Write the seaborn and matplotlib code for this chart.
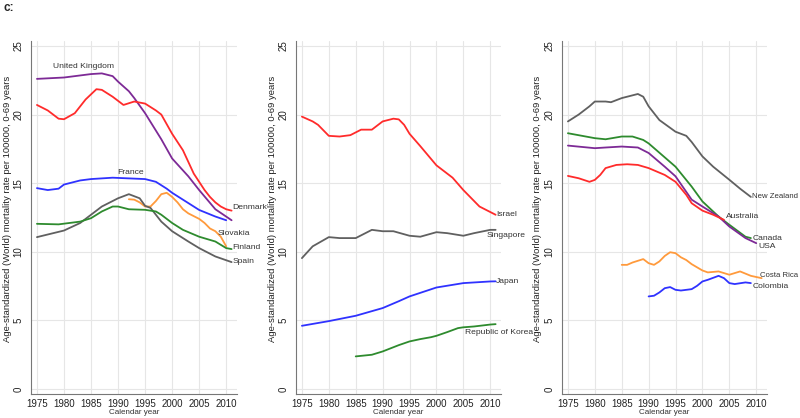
import numpy as np
import pandas as pd
import matplotlib
matplotlib.use("Agg")
import matplotlib.pyplot as plt
import seaborn as sns

# colours (Stata-like)
RED = "#ff2b2b"
PURPLE = "#7d2a96"
BLUE = "#2f32ff"
GREEN = "#2e8b2e"
GRAY = "#606060"
ORANGE = "#ff9a3c"

# ---- panel 1: Europe ----
uk_years = [1975, 1980, 1985, 1987, 1989, 1990, 1992, 1993, 1995, 1998, 2000, 2003, 2005, 2008, 2011]
uk_vals = [22.6, 22.7, 22.95, 23.0, 22.8, 22.4, 21.7, 21.2, 20.1, 18.2, 16.8, 15.5, 14.5, 13.1, 12.3]

dk_years = [1975, 1977, 1979, 1980, 1982, 1984, 1986, 1987, 1989, 1991, 1993, 1995, 1997, 1998, 2000,
            2002, 2004, 2005, 2006, 2007, 2008, 2009, 2010, 2011]
dk_vals = [20.7, 20.3, 19.7, 19.66, 20.1, 21.1, 21.85, 21.8, 21.3, 20.7, 20.95, 20.8, 20.3, 20.0, 18.6,
           17.4, 15.7, 15.1, 14.5, 14.0, 13.6, 13.3, 13.1, 13.0]

fr_years = [1975, 1977, 1979, 1980, 1983, 1985, 1989, 1995, 1997, 1999, 2000, 2002, 2005, 2008, 2010]
fr_vals = [14.64, 14.5, 14.6, 14.9, 15.2, 15.3, 15.4, 15.3, 15.1, 14.6, 14.3, 13.8, 13.05, 12.57, 12.3]

sk_years = [1992, 1993, 1994, 1995, 1996, 1997, 1998, 1999, 2000, 2001, 2002, 2003, 2004, 2005, 2006,
            2007, 2008, 2009, 2010]
sk_vals = [13.83, 13.8, 13.6, 13.3, 13.3, 13.7, 14.2, 14.3, 14.0, 13.6, 13.1, 12.8, 12.6, 12.4, 12.1,
           11.7, 11.5, 11.1, 10.4]

es_years = [1975, 1980, 1983, 1985, 1987, 1990, 1992, 1994, 1995, 1996, 1998, 2000, 2003, 2005, 2008, 2011]
es_vals = [11.07, 11.55, 12.1, 12.7, 13.3, 13.9, 14.2, 13.9, 13.35, 13.2, 12.2, 11.5, 10.75, 10.27, 9.66, 9.25]

fi_years = [1975, 1979, 1983, 1985, 1987, 1989, 1990, 1992, 1995, 1997, 1998, 2000, 2002, 2005, 2008, 2010, 2011]
fi_vals = [12.04, 12.0, 12.2, 12.45, 12.94, 13.3, 13.3, 13.1, 13.06, 12.94, 12.7, 12.1, 11.6, 11.1, 10.75, 10.27, 10.2]

# ---- panel 2: Asia ----
il_years = [1975, 1977, 1978, 1980, 1982, 1984, 1986, 1988, 1989, 1990, 1992, 1993, 1994, 1995, 1997,
            2000, 2003, 2005, 2007, 2008, 2010, 2011]
il_vals = [19.85, 19.5, 19.25, 18.45, 18.4, 18.5, 18.9, 18.9, 19.2, 19.5, 19.7, 19.65, 19.25, 18.6, 17.7,
           16.3, 15.4, 14.5, 13.7, 13.3, 12.9, 12.7]

sg_years = [1975, 1977, 1980, 1982, 1985, 1988, 1990, 1992, 1995, 1997, 2000, 2002, 2005, 2007, 2010, 2011]
sg_vals = [9.54, 10.4, 11.07, 11.0, 11.0, 11.6, 11.5, 11.5, 11.17, 11.1, 11.43, 11.36, 11.17, 11.36, 11.6, 11.6]

jp_years = [1975, 1980, 1985, 1990, 1993, 1995, 2000, 2005, 2010, 2011]
jp_vals = [4.61, 4.95, 5.34, 5.9, 6.4, 6.75, 7.4, 7.72, 7.84, 7.85]

kr_years = [1985, 1988, 1990, 1993, 1995, 1997, 1999, 2000, 2002, 2004, 2005, 2007, 2010, 2011]
kr_vals = [2.38, 2.5, 2.74, 3.2, 3.47, 3.64, 3.78, 3.88, 4.15, 4.44, 4.5, 4.56, 4.7, 4.73]

# ---- panel 3: Americas / Oceania ----
nz_years = [1975, 1977, 1979, 1980, 1982, 1983, 1985, 1986, 1988, 1989, 1990, 1992, 1995, 1997, 1998,
            2000, 2002, 2005, 2007, 2009]
nz_vals = [19.5, 20.0, 20.6, 20.95, 20.95, 20.9, 21.2, 21.3, 21.5, 21.3, 20.6, 19.6, 18.75, 18.45, 18.0,
           16.95, 16.2, 15.25, 14.6, 14.0]

ca_years = [1975, 1980, 1982, 1985, 1987, 1989, 1990, 1995, 1998, 2000, 2003, 2005, 2008, 2009]
ca_vals = [18.64, 18.28, 18.2, 18.4, 18.4, 18.15, 17.9, 16.2, 14.75, 13.67, 12.57, 11.97, 11.1, 11.0]

us_years = [1975, 1980, 1982, 1985, 1988, 1990, 1993, 1995, 1998, 2000, 2003, 2005, 2008, 2010]
us_vals = [17.74, 17.55, 17.6, 17.67, 17.6, 17.2, 16.2, 15.5, 13.8, 13.3, 12.57, 11.84, 11.0, 10.63]

au_years = [1975, 1977, 1979, 1980, 1981, 1982, 1984, 1986, 1988, 1990, 1993, 1995, 1997, 1998, 2000, 2002, 2004]
au_vals = [15.53, 15.36, 15.1, 15.24, 15.6, 16.1, 16.33, 16.38, 16.33, 16.1, 15.6, 15.1, 14.15, 13.54, 13.0, 12.7, 12.33]

cr_years = [1985, 1986, 1987, 1989, 1990, 1991, 1992, 1993, 1994, 1995, 1996, 1997, 1998, 2000, 2001,
            2003, 2005, 2007, 2009, 2011]
cr_vals = [9.05, 9.05, 9.22, 9.47, 9.17, 9.05, 9.3, 9.7, 9.97, 9.9, 9.6, 9.4, 9.1, 8.64, 8.5,
           8.57, 8.33, 8.57, 8.25, 8.08]

co_years = [1990, 1991, 1992, 1993, 1994, 1995, 1996, 1998, 1999, 2000, 2001, 2003, 2004, 2005, 2006, 2008, 2009]
co_vals = [6.75, 6.8, 7.04, 7.35, 7.43, 7.23, 7.18, 7.28, 7.52, 7.84, 7.96, 8.25, 8.08, 7.72, 7.65, 7.77, 7.72]

# name, years, values, colour, (label x, label y, align, size)
panels = [
    [("United Kingdom", uk_years, uk_vals, PURPLE, (1978.0, 23.5, "left", 6.1)),
     ("Denmark", dk_years, dk_vals, RED, (2011.1, 13.26, "left", 6.1)),
     ("France", fr_years, fr_vals, BLUE, (1992.4, 15.75, "center", 6.1)),
     ("Slovakia", sk_years, sk_vals, ORANGE, (2008.5, 11.37, "left", 6.1)),
     ("Spain", es_years, es_vals, GRAY, (2011.1, 9.26, "left", 6.1)),
     ("Finland", fi_years, fi_vals, GREEN, (2011.1, 10.28, "left", 6.1))],
    [("Israel", il_years, il_vals, RED, (2011.1, 12.75, "left", 6.1)),
     ("Singapore", sg_years, sg_vals, GRAY, (2009.3, 11.22, "left", 6.1)),
     ("Japan", jp_years, jp_vals, BLUE, (2011.1, 7.87, "left", 6.1)),
     ("Republic of Korea", kr_years, kr_vals, GREEN, (2005.4, 4.15, "left", 6.1))],
    [("New Zealand", nz_years, nz_vals, GRAY, (2009.2, 14.0, "left", 5.6)),
     ("Canada", ca_years, ca_vals, GREEN, (2009.3, 11.0, "left", 6.1)),
     ("USA", us_years, us_vals, PURPLE, (2010.4, 10.42, "left", 6.1)),
     ("Australia", au_years, au_vals, RED, (2004.4, 12.54, "left", 6.1)),
     ("Costa Rica", cr_years, cr_vals, ORANGE, (2010.7, 8.31, "left", 5.6)),
     ("Colombia", co_years, co_vals, BLUE, (2009.3, 7.5, "left", 6.1))],
]

sns.set_style("white")
plt.rcParams["font.family"] = ["Liberation Sans", "DejaVu Sans"]

W, H = 800, 418
fig = plt.figure(figsize=(W / 100, H / 100), dpi=100)

# axes boxes in pixels: left, right, top, bottom
boxes = [(31, 237, 41, 394), (296, 501, 41, 394), (562, 767, 41, 394)]
ylab_x = [3, 268, 533]

for (l, r, t, b), series, yx in zip(boxes, panels, ylab_x):
    ax = fig.add_axes([l / W, (H - b) / H, (r - l) / W, (b - t) / H])
    for name, yrs, vals, col, (tx, ty, ha, fs) in series:
        df = pd.DataFrame({"year": yrs, "rate": vals})
        sns.lineplot(data=df, x="year", y="rate", color=col, linewidth=1.3, ax=ax)
        ax.text(tx, ty, name, ha=ha, va="center", fontsize=fs, color="#333333")
    ax.set_xlim(1973.9, 2012)
    ax.set_ylim(-0.36, 25.36)
    ax.set_xticks(range(1975, 2011, 5))
    ax.set_yticks(range(0, 26, 5))
    ax.grid(True, color="#e6e6e6", linewidth=0.8)
    for s in ["top", "right"]:
        ax.spines[s].set_visible(False)
    for s in ["left", "bottom"]:
        ax.spines[s].set_color("#777777")
        ax.spines[s].set_linewidth(0.8)
    ax.tick_params(axis="both", direction="out", length=2.5, width=0.7, color="#777777",
                   labelsize=7, labelcolor="#222222", pad=1)
    ax.tick_params(axis="y", labelrotation=90, pad=3)
    for lab in ax.get_yticklabels():
        lab.set_va("center")
    ax.set_xlabel("")
    ax.set_ylabel("")
    fig.text((l + r) / 2 / W, 1 - 413 / H, "Calendar year", ha="center", va="center",
             fontsize=5.8, color="#333333")
    fig.text(yx / W, 0.5, "Age-standardized (World) mortality rate per 100000, 0-69 years",
             rotation=90, ha="left", va="center", fontsize=6.8, color="#222222")

fig.text(3 / W, 1 - 8 / H, "c:", fontsize=8.5, fontweight="bold", ha="left", va="center")

fig.savefig("out.png", dpi=100)
